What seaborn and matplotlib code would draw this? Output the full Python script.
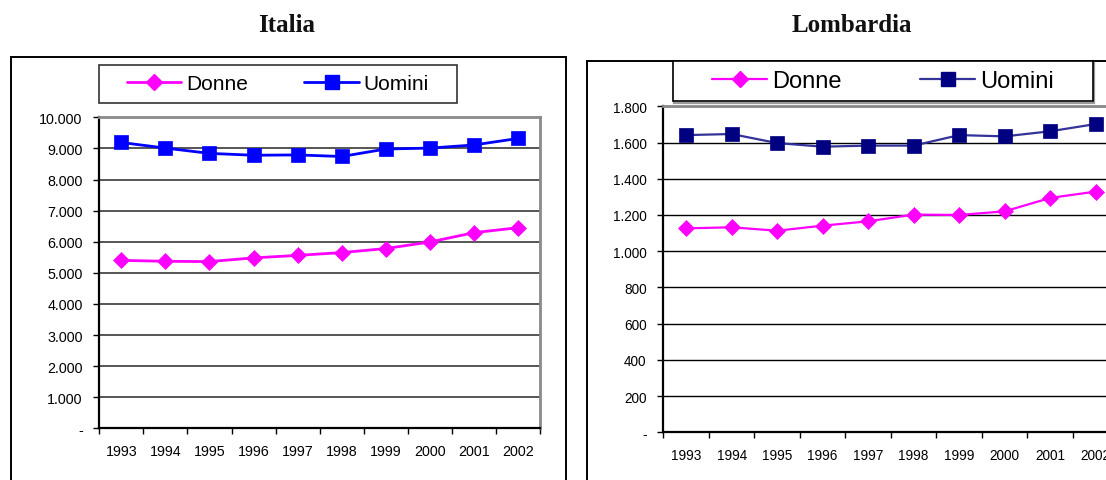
import matplotlib
matplotlib.use("Agg")
import matplotlib.pyplot as plt
from matplotlib.lines import Line2D
from matplotlib.patches import Rectangle
from matplotlib.ticker import FixedLocator, FuncFormatter
import pandas as pd
import seaborn as sns

# ---- data ----
years = [1993, 1994, 1995, 1996, 1997, 1998, 1999, 2000, 2001, 2002]
italia_donne = [5400, 5370, 5360, 5480, 5560, 5650, 5780, 5990, 6290, 6450]
italia_uomini = [9190, 9010, 8840, 8780, 8790, 8740, 8980, 9010, 9110, 9320]
lombardia_donne = [1126, 1132, 1113, 1141, 1165, 1202, 1200, 1220, 1294, 1329]
lombardia_uomini = [1641, 1647, 1597, 1577, 1583, 1583, 1641, 1634, 1662, 1702]
series_labels = ["Donne", "Uomini"]
panel_titles = ["Italia", "Lombardia"]
italia_yticks = list(range(0, 10001, 1000))
lombardia_yticks = list(range(0, 1801, 200))

sns.set_style("white")
plt.rcParams["font.family"] = ["Liberation Sans", "DejaVu Sans"]

W, H = 1106, 481
fig = plt.figure(figsize=(W / 100, H / 100), dpi=100)
fig.patch.set_facecolor("white")

DIAMOND_SIZE = 8.0
SQUARE_SIZE = 10


def fig_rect(x0, y0, x1, y1):
    """Pixel box (top-left origin) -> figure fraction rect."""
    return [x0 / W, 1 - y1 / H, (x1 - x0) / W, (y1 - y0) / H]


def add_box(x0, y0, x1, y1, lw=1.2, ec="black", z=1):
    r = Rectangle((x0 / W, 1 - y1 / H), (x1 - x0) / W, (y1 - y0) / H,
                  transform=fig.transFigure, fill=False, ec=ec, lw=lw, zorder=z)
    fig.add_artist(r)


def thousands(v, pos):
    if v == 0:
        return "-"
    return f"{int(round(v)):,}".replace(",", ".")


def draw_panel(rect, donne, uomini, yticks, u_line, u_marker, grid_c, grid_lw,
               line_lw, tick_fs):
    ax = fig.add_axes(rect)
    ax.set_facecolor("white")
    sns.lineplot(x=years, y=donne, ax=ax, color="#FF00FF", lw=line_lw,
                 marker="D", markersize=DIAMOND_SIZE, markeredgecolor="#FF00FF",
                 markerfacecolor="#FF00FF", markeredgewidth=0.5, zorder=4)
    sns.lineplot(x=years, y=uomini, ax=ax, color=u_line, lw=line_lw,
                 marker="s", markersize=SQUARE_SIZE, markeredgecolor=u_marker,
                 markerfacecolor=u_marker, markeredgewidth=0.5, zorder=4)
    if ax.get_legend() is not None:
        ax.get_legend().remove()
    ax.set_xlim(years[0] - 0.5, years[-1] + 0.5)
    ax.set_ylim(yticks[0], yticks[-1])
    ax.yaxis.set_major_locator(FixedLocator(yticks))
    ax.yaxis.set_major_formatter(FuncFormatter(thousands))
    ax.xaxis.set_major_locator(FixedLocator(years))
    ax.xaxis.set_minor_locator(FixedLocator([y - 0.5 for y in years] + [years[-1] + 0.5]))
    ax.set_xticklabels([str(y) for y in years])
    ax.tick_params(axis="x", which="major", length=0, pad=11.5,
                   labelsize=tick_fs, colors="black")
    ax.tick_params(axis="x", which="minor", length=4, width=1, direction="out",
                   color="black", bottom=True)
    ax.tick_params(axis="y", which="major", length=4, width=1, direction="out",
                   pad=8, labelsize=tick_fs, colors="black", left=True)
    for y in yticks[1:]:
        ax.axhline(y, color=grid_c, lw=grid_lw, zorder=1)
    ax.spines["left"].set_color("black")
    ax.spines["left"].set_linewidth(1.6)
    ax.spines["bottom"].set_color("black")
    ax.spines["bottom"].set_linewidth(1.6)
    for s in ("top", "right"):
        ax.spines[s].set_color("#8a8a8a")
        ax.spines[s].set_linewidth(2)
    ax.set_xlabel("")
    ax.set_ylabel("")
    return ax


# outer frames
add_box(10.7, 57.7, 566, 495, lw=1.4)
add_box(587.3, 61.7, 1125, 495, lw=1.4)

# Italia panel
draw_panel(fig_rect(99.3, 118.3, 540, 429.3), italia_donne, italia_uomini,
           italia_yticks, "#0000FF", "#0000FF", "#555555", 1.4, 2.0, 10.3)
# Lombardia panel
draw_panel(fig_rect(663.4, 107.3, 1118.4, 433.3), lombardia_donne, lombardia_uomini,
           lombardia_yticks, "#333399", "#000080", "black", 1.0, 1.6, 9.8)

# titles
title_font = dict(ha="center", va="baseline", fontsize=18, fontweight="bold",
                  family=["Liberation Serif", "DejaVu Serif"], color="#111111")
fig.text(287 / W, 1 - 31.5 / H, panel_titles[0], **title_font)
fig.text(851.6 / W, 1 - 31.5 / H, panel_titles[1], **title_font)


def legend_handles(u_line, u_marker, lw):
    return [
        Line2D([], [], color="#FF00FF", lw=lw, marker="D", markersize=DIAMOND_SIZE,
               markerfacecolor="#FF00FF", markeredgecolor="#FF00FF"),
        Line2D([], [], color=u_line, lw=lw, marker="s", markersize=SQUARE_SIZE,
               markerfacecolor=u_marker, markeredgecolor=u_marker),
    ]


# Italia legend
add_box(99, 66, 457, 104, lw=1.2, ec="#333333", z=2)
fig.legend(legend_handles("#0000FF", "#0000FF", 2.0), series_labels,
           loc="center", bbox_to_anchor=(278 / W, 1 - 85 / H),
           bbox_transform=fig.transFigure, ncol=2, frameon=False,
           handlelength=2.6, handletextpad=0.25, columnspacing=2.7,
           borderaxespad=0, borderpad=0, fontsize=15, labelcolor="black")

# Lombardia legend (with a light drop shadow)
add_box(674.0, 63.7, 1094.4, 103.9, lw=1.6, ec="#9a9a9a", z=1.5)
fig.add_artist(Rectangle((672.5 / W, 1 - 101.7 / H), (1093.4 - 672.5) / W, 40 / H,
                         transform=fig.transFigure, fc="white", ec="black",
                         lw=1.2, zorder=2))
fig.legend(legend_handles("#333399", "#000080", 1.6), series_labels,
           loc="center", bbox_to_anchor=(883 / W, 1 - 82 / H),
           bbox_transform=fig.transFigure, ncol=2, frameon=False,
           handlelength=2.33, handletextpad=0.2, columnspacing=3.35,
           borderaxespad=0, borderpad=0, fontsize=17, labelcolor="black")

fig.savefig("out.png", dpi=100)
